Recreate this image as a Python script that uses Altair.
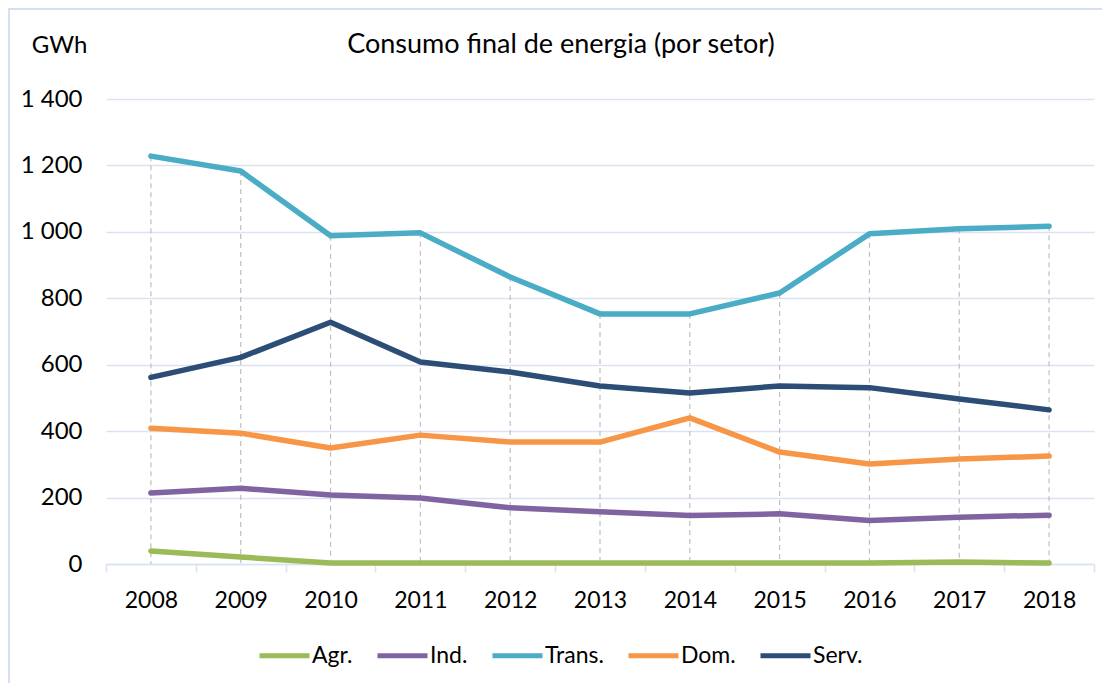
import altair as alt
import pandas as pd

years = [str(y) for y in range(2008, 2019)]
agr = [39, 21, 3, 3, 3, 3, 3, 3, 3, 6, 3]
ind = [214, 228, 208, 199, 169, 157, 146, 151, 131, 141, 147]
trans = [1228, 1183, 988, 997, 864, 753, 753, 816, 994, 1009, 1017]
dom = [409, 394, 349, 388, 367, 367, 440, 337, 301, 316, 325]
serv = [562, 622, 728, 608, 578, 536, 515, 536, 531, 497, 464]
sectors = ["Agr.", "Ind.", "Trans.", "Dom.", "Serv."]
colors = ["#9BBB59", "#8064A2", "#4BACC6", "#F79646", "#2C4D75"]

series = [agr, ind, trans, dom, serv]
rows = []
for name, vals in zip(sectors, series):
    for yr, v in zip(years, vals):
        rows.append({"Ano": yr, "Setor": name, "GWh": v})
df = pd.DataFrame(rows)
drop_df = pd.DataFrame({"Ano": years, "top": [max(v) for v in zip(*series)]})

FONT = "Lato"
GRID = "#D9E3F1"

x_enc = alt.X(
    "Ano:O",
    sort=years,
    scale=alt.Scale(paddingInner=0, paddingOuter=0),
    axis=alt.Axis(
        title=None, labelAngle=0, labelFontSize=23, labelColor="#000000",
        labelFont=FONT, domainColor=GRID, domainWidth=1.5, tickColor=GRID,
        tickWidth=1.5, tickSize=8, tickBand="extent", labelPadding=17, grid=False,
    ),
)

y_scale = alt.Scale(domain=[0, 1400])

frame = alt.Chart(pd.DataFrame({"f": [0]})).mark_rect(
    filled=False, stroke="#D6E0EE", strokeWidth=2
).encode(
    x=alt.value(-97), x2=alt.value(1200), y=alt.value(-90), y2=alt.value(800)
)

drops = alt.Chart(drop_df).mark_rule(
    color="#BFBFBF", strokeDash=[5, 4], strokeWidth=1.2
).encode(
    x=x_enc,
    y=alt.Y("top:Q", scale=y_scale),
    y2=alt.datum(0),
)

lines = alt.Chart(df).mark_line(strokeWidth=5.5, strokeCap="round", strokeJoin="round").encode(
    x=x_enc,
    y=alt.Y(
        "GWh:Q",
        scale=y_scale,
        axis=alt.Axis(
            values=list(range(0, 1401, 200)),
            labelExpr="replace(format(datum.value, ','), ',', ' ')",
            labelFontSize=24, labelFont=FONT, labelColor="#000000",
            labelPadding=24, tickSize=0, domain=False,
            gridColor=GRID, gridWidth=1.5,
            title="GWh", titleAngle=0, titleFont=FONT, titleFontSize=24,
            titleFontWeight="normal", titleColor="#000000",
            titleX=-47, titleY=-54, titleAlign="center", titleBaseline="middle",
        ),
    ),
    color=alt.Color(
        "Setor:N",
        scale=alt.Scale(domain=sectors, range=colors),
        sort=sectors,
        legend=alt.Legend(
            title=None, orient="none", direction="horizontal", columns=5,
            legendX=151, legendY=529, symbolType="stroke", symbolSize=2500,
            symbolStrokeWidth=5, labelFontSize=23, labelFont=FONT,
            labelColor="#000000", labelOffset=0, columnPadding=14, padding=0,
        ),
    ),
)

chart = (
    alt.layer(frame, drops, lines)
    .properties(
        width=988,
        height=465,
        padding={"left": 98, "top": 91, "right": 8, "bottom": 119},
        autosize=alt.AutoSizeParams(type="none"),
        title=alt.TitleParams(
            "Consumo final de energia (por setor)", font=FONT, fontSize=27,
            fontWeight="normal", color="#000000", anchor="middle", dx=-39, offset=-51,
        ),
    )
    .configure_view(stroke=None)
)

chart.save("out.html", embed_options={"renderer": "svg", "actions": False})
